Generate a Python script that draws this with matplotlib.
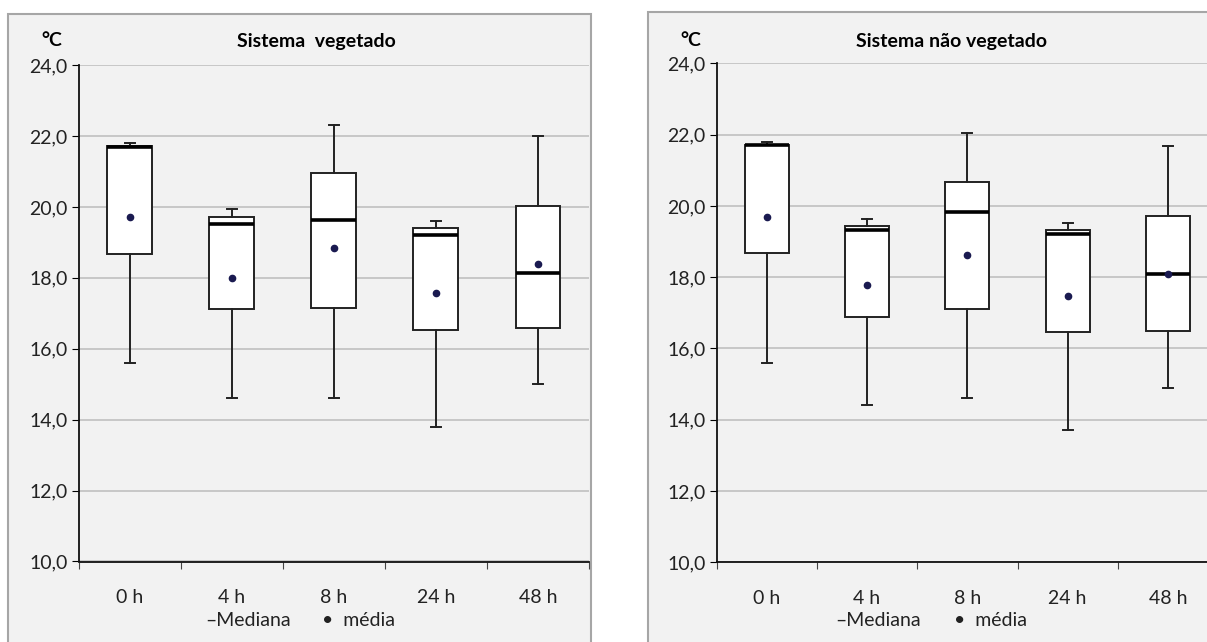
import matplotlib.pyplot as plt
from matplotlib.patches import Rectangle

plt.rcParams['font.family'] = ['Lato', 'DejaVu Sans']

horas = ['0 h', '4 h', '8 h', '24 h', '48 h']

# Sistema vegetado
veg_min = [15.6, 14.6, 14.6, 13.8, 15.0]
veg_q1 = [18.66, 17.11, 17.15, 16.54, 16.59]
veg_med = [21.7, 19.53, 19.62, 19.21, 18.13]
veg_q3 = [21.72, 19.72, 20.97, 19.4, 20.04]
veg_max = [21.8, 19.93, 22.3, 19.6, 22.0]
veg_media = [19.71, 18.0, 18.85, 17.58, 18.38]

# Sistema não vegetado
nveg_min = [15.6, 14.4, 14.6, 13.7, 14.89]
nveg_q1 = [18.68, 16.88, 17.12, 16.45, 16.49]
nveg_med = [21.7, 19.31, 19.82, 19.22, 18.1]
nveg_q3 = [21.71, 19.44, 20.68, 19.33, 19.72]
nveg_max = [21.8, 19.63, 22.04, 19.52, 21.68]
nveg_media = [19.70, 17.78, 18.62, 17.46, 18.1]

W, H = 1207, 642
FS = 14
fig = plt.figure(figsize=(W / 100, H / 100), dpi=100)
fig.patch.set_facecolor('white')

# gray frames around each chart
for x0, y0, largura in [(8, 14, 583), (648, 12, 700)]:
    fig.patches.append(Rectangle((x0 / W, -0.1), largura / W, (H - y0) / H + 0.1,
                                 transform=fig.transFigure,
                                 facecolor='#f2f2f2', edgecolor='#a6a6a6',
                                 linewidth=1.5, zorder=-5))


def painel(rect, titulo, lo, q1, med, q3, hi, media, tx, cx):
    ax = fig.add_axes(rect)
    ax.set_facecolor('none')
    stats = []
    for i in range(len(horas)):
        stats.append(dict(whislo=lo[i], q1=q1[i], med=med[i], q3=q3[i],
                          whishi=hi[i], mean=media[i], fliers=[]))
    ax.bxp(stats, positions=range(len(horas)), widths=0.44, showmeans=True,
           patch_artist=True, manage_ticks=False,
           boxprops=dict(facecolor='white', edgecolor='#222222', linewidth=1.4),
           medianprops=dict(color='black', linewidth=2.6),
           whiskerprops=dict(color='#222222', linewidth=1.4),
           capprops=dict(color='#222222', linewidth=1.4),
           capwidths=0.1,
           meanprops=dict(marker='o', markersize=4.5, markerfacecolor='#1a1a50',
                          markeredgecolor='#1a1a50'))
    ax.set_xlim(-0.5, len(horas) - 0.5)
    ax.set_ylim(10, 24)
    ax.set_yticks([10, 12, 14, 16, 18, 20, 22, 24])
    ax.set_yticklabels(['10,0', '12,0', '14,0', '16,0', '18,0', '20,0', '22,0', '24,0'],
                       fontsize=FS, color='#222222')
    ax.yaxis.grid(True, color='#c4c4c4', linewidth=1.3)
    ax.set_axisbelow(True)
    ax.set_xticks([i - 0.5 for i in range(len(horas) + 1)])
    ax.set_xticklabels([])
    ax.set_xticks(range(len(horas)), minor=True)
    ax.set_xticklabels(horas, minor=True, fontsize=FS, color='#222222')
    ax.tick_params(axis='x', which='minor', length=0, pad=20)
    ax.tick_params(axis='x', which='major', length=5, color='#444444')
    ax.tick_params(axis='y', length=5, pad=3)
    for s in ['top', 'right']:
        ax.spines[s].set_visible(False)
    for s in ['left', 'bottom']:
        ax.spines[s].set_color('#111111')
        ax.spines[s].set_linewidth(1.3)
    fig.text(tx / W, 1 - 42 / H, titulo, ha='center', va='center',
             fontsize=FS, fontweight='bold')
    fig.text(cx / W, 1 - 40 / H, '°C', ha='center', va='center',
             fontsize=FS, fontweight='bold')
    return ax


ax1 = painel([78.6 / W, (H - 561.5) / H, 510.4 / W, 496.4 / H],
             'Sistema  vegetado', veg_min, veg_q1, veg_med, veg_q3, veg_max,
             veg_media, 316, 52)
ax2 = painel([716.6 / W, (H - 562.2) / H, 501.5 / W, 498.8 / H],
             'Sistema não vegetado', nveg_min, nveg_q1, nveg_med, nveg_q3,
             nveg_max, nveg_media, 951, 691)

# legend line under the category labels
for x_med, x_mean in [(248, 358), (878, 990)]:
    fig.text(x_med / W, 1 - 620 / H, '–Mediana', ha='center', va='center',
             fontsize=FS, color='#222222')
    fig.text(x_mean / W, 1 - 620 / H, '•  média', ha='center', va='center',
             fontsize=FS, color='#222222')

fig.savefig('out.png', dpi=100)
